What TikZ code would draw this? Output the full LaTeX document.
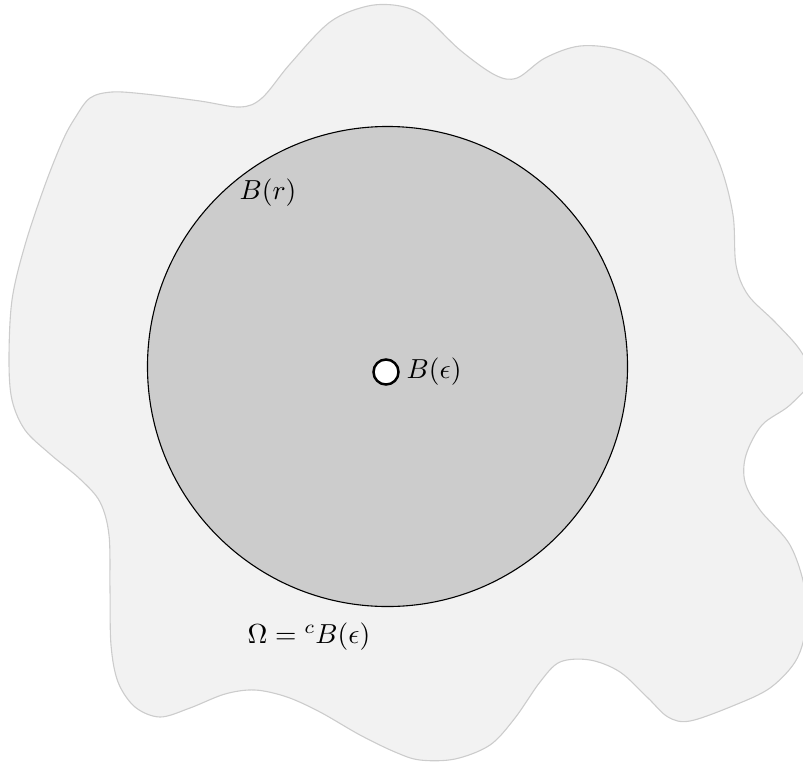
\documentclass[tikz,border=0pt]{standalone}
\usepackage{amsmath}
\usepackage{tikz}
\usetikzlibrary{positioning}

\begin{document}
\begin{tikzpicture}[
  x=0.3636pt, y=-0.3636pt,
  blob/.style={draw=gray!40, fill=gray!10},
  ball/.style={draw=black, fill=gray!40},
  hole/.style={circle, draw=black, fill=white, line width=0.9pt, minimum size=9.1pt, inner sep=0pt},
  every node/.style={font=\normalsize}
]

\useasboundingbox (0,0) rectangle (803,762);
\clip (0,0) rectangle (803,762);

% the domain
\draw[blob] plot[smooth cycle, tension=0.55] coordinates {
  (75,118) (90,98) (112,92) (145,94) (200,101) (240,107) (262,98)
  (290,64) (330,22) (368,6) (400,6) (425,17) (460,50) (495,75)
  (517,78) (545,58) (580,46) (620,50) (660,70) (695,115) (720,165)
  (733,215) (736,265) (748,295) (775,322) (800,350) (812,378)
  (790,405) (762,425) (746,455) (745,482) (760,510) (790,545)
  (805,590) (805,632) (795,662) (770,688) (735,705) (690,721)
  (668,717) (648,698) (620,672) (590,660) (560,662) (540,682)
  (515,718) (490,745) (455,759) (420,760) (395,752) (360,735)
  (320,712) (287,697) (255,690) (225,694) (190,708) (160,717)
  (135,707) (118,682) (111,645) (110,590) (109,535) (100,502)
  (80,479) (50,454) (25,430) (12,400) (9,360) (12,300) (25,245)
  (45,185) (63,140)
};

% big ball and small hole
\coordinate (c) at (387.5,366.5);
\draw[ball] (c) circle (87.27pt);
\node[hole] (eps) at (386,372) {};

% labels
\node (lr) at (268,193) {$B(r)$};
\node[right=-1pt of eps] (leps) {$B(\epsilon)$};
\node (lom) at (309,637) {$\Omega = {}^cB(\epsilon)$};

\end{tikzpicture}
\end{document}
